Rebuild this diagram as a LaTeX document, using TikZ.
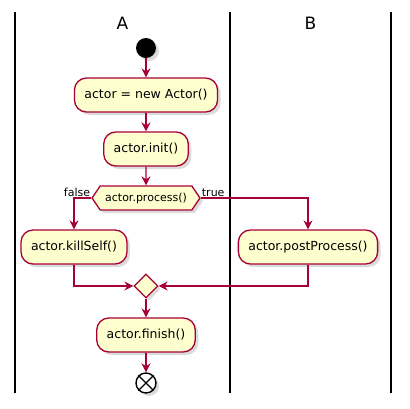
\documentclass[tikz,border=0pt]{standalone}
\usepackage{fontspec}
\setmainfont{DejaVu Sans}
\usetikzlibrary{arrows.meta,shapes.geometric,shapes.symbols,shadows}
\definecolor{umlred}{HTML}{A80036}
\definecolor{umlfill}{HTML}{FEFECE}
\begin{document}
\begin{tikzpicture}[x=1pt,y=-1pt,
  shade/.style={drop shadow={shadow xshift=3pt,shadow yshift=-3pt,fill=black!40,opacity=0.35}},
  act/.style={shade,draw=umlred,fill=umlfill,line width=1.3pt,rounded corners=12pt,
    minimum height=34pt,inner xsep=10pt,font=\fontsize{12.5}{14}\selectfont},
  chk/.style={shade,shape=signal,signal to=east and west,signal pointer angle=112,
    draw=umlred,fill=umlfill,line width=1.3pt,minimum height=24pt,inner ysep=0pt,
    inner xsep=5pt,font=\fontsize{11}{13}\selectfont},
  merge/.style={shade,shape=diamond,draw=umlred,fill=umlfill,line width=1.3pt,
    inner sep=0pt,minimum width=24pt,minimum height=24pt},
  flow/.style={draw=umlred,line width=1.1pt,-{Stealth[length=9pt,width=9pt,inset=3pt]}},
  lbl/.style={font=\fontsize{11}{13}\selectfont,inner sep=1pt},
  lane/.style={line width=1.4pt}]
\useasboundingbox (0,0) rectangle (410,408);
\foreach \x in {15,230,391}
  \draw [lane] (\x,12) -- (\x,393);
\node (ta) at (122.5,23) {\fontsize{17}{20}\selectfont A};
\node (tb) at (310.5,23) {\fontsize{17}{20}\selectfont B};
\node [shade,circle,fill=black,minimum size=20pt,inner sep=0pt] (start) at (146,48) {};
\node [act] (new) at (146,95) {actor = new Actor()};
\node [act] (init) at (146,149) {actor.init()};
\node [chk] (proc) at (146,198) {actor.process()};
\node [lbl,anchor=south east] (no) at (proc.west) {false};
\node [lbl,anchor=south west] (yes) at (proc.east) {true};
\node [act] (kill) at (74,247) {actor.killSelf()};
\node [act] (post) at (308,247) {actor.postProcess()};
\node [merge] (join) at (146,286) {};
\node [act] (fin) at (146,335) {actor.finish()};
\node [shade,circle,draw,fill=white,line width=1.4pt,minimum size=20pt,inner sep=0pt] (stop) at (146,383) {};
\draw [line width=1.4pt] (stop.north west) -- (stop.south east);
\draw [line width=1.4pt] (stop.north east) -- (stop.south west);
\draw [flow] (start) -- (new);
\draw [flow] (new) -- (init);
\draw [flow] (init) -- (proc);
\draw [flow] (proc.west) -| (kill.north);
\draw [flow] (proc.east) -| (post.north);
\draw [flow] (kill.south) |- (join.west);
\draw [flow] (post.south) |- (join.east);
\draw [flow] (join) -- (fin);
\draw [flow] (fin) -- (stop);
\end{tikzpicture}
\end{document}
